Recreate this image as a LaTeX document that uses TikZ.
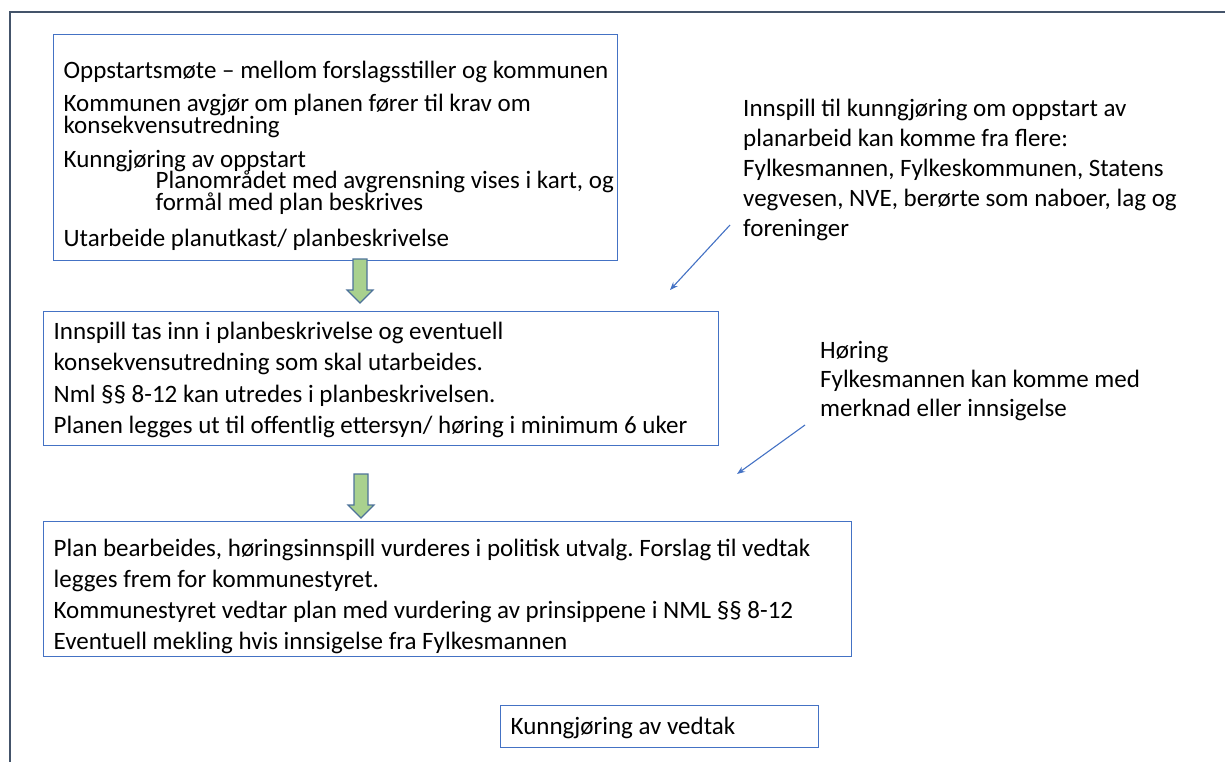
\documentclass[tikz,border=0pt]{standalone}
\usepackage{fontspec}
\setmainfont{Carlito}
\usetikzlibrary{positioning,arrows.meta}
\definecolor{framegrey}{HTML}{44546A}
\definecolor{boxblue}{HTML}{4472C4}
\definecolor{arrowgreen}{HTML}{A9D18E}
\definecolor{arrowedge}{HTML}{4E7399}
\newcommand{\planrow}[3]{\makebox[#1][l]{\rule{0pt}{#2}#3}}
\newcommand{\planend}[2]{\rule[-#1]{0pt}{#1}#2}
\newcommand{\planfont}[1]{\fontsize{25}{#1}\selectfont\frenchspacing\lineskiplimit -20pt\relax}
\tikzset{
  planbox/.style={draw=boxblue, line width=1.3pt, anchor=north west, align=left,
    inner xsep=10pt, inner ysep=0pt, font=\planfont{31pt}},
  note/.style={anchor=north west, align=left, inner sep=0pt,
    font=\fontsize{25}{30}\selectfont\frenchspacing},
  greenarrow/.style={draw=arrowedge, fill=arrowgreen, line width=1.2pt, line join=miter},
  pil/.pic={\path[greenarrow] (-7,0) -- (7,0) -- (7,31) -- (13,31) -- (0,44)
    -- (-13,31) -- (-7,31) -- cycle;},
  hint/.style={draw=boxblue, line width=1.1pt, -{Stealth[length=8pt,width=6pt]}}
}
\begin{document}
\begin{tikzpicture}[x=1pt,y=-1pt]
  \useasboundingbox (0,0) rectangle (1225,762);
  \draw[framegrey, line width=2.5pt] (1225,12) -- (10,12) -- (10,762);

  \node[planbox, font=\planfont{21.5pt}] (oppstart) at (53,34)
    {\planrow{544pt}{44pt}{Oppstartsmøte – mellom forslagsstiller og kommunen}\\[11.5pt]
     Kommunen avgjør om planen fører til krav om\\
     konsekvensutredning\\[12.5pt]
     Kunngjøring av oppstart\\
     \planrow{544pt}{0pt}{\hspace*{92pt}Planområdet med avgrensning vises i kart, og}\\
     \hspace*{92pt}formål med plan beskrives\\[14.5pt]
     \planend{14.5pt}{Utarbeide planutkast/ planbeskrivelse}};

  \node[planbox, font=\planfont{31.3pt}] (ettersyn) at (43,311)
    {\planrow{655pt}{28pt}{Innspill tas inn i planbeskrivelse og eventuell}\\
     konsekvensutredning som skal utarbeides.\\
     Nml §§ 8-12 kan utredes i planbeskrivelsen.\\
     \planend{12pt}{Planen legges ut til offentlig ettersyn/ høring i minimum 6 uker}};

  \node[planbox] (vedtak) at (43,521)
    {\planrow{788pt}{35pt}{Plan bearbeides, høringsinnspill vurderes i politisk utvalg. Forslag til vedtak}\\
     legges frem for kommunestyret.\\
     Kommunestyret vedtar plan med vurdering av prinsippene i NML §§ 8-12\\
     \planend{7pt}{Eventuell mekling hvis innsigelse fra Fylkesmannen}};

  \node[planbox] (kunngjoring) at (500,705)
    {\planrow{298pt}{29pt}{\planend{13pt}{Kunngjøring av vedtak}}};

  \pic (pil1) at (360,259) {pil};
  \pic (pil2) at (361,474) {pil};

  \node[note] (innspill) at (743,99)
    {Innspill til kunngjøring om oppstart av\\
     planarbeid kan komme fra flere:\\
     Fylkesmannen, Fylkeskommunen, Statens\\
     vegvesen, NVE, berørte som naboer, lag og\\
     foreninger};
  \node[note, font=\fontsize{25}{29}\selectfont] (horing) at (820,341)
    {Høring\\
     Fylkesmannen kan komme med\\
     merknad eller innsigelse};

  \coordinate (innspill-fra) at (730,225);
  \coordinate (innspill-til) at (670,290);
  \coordinate (horing-fra) at (805,425);
  \coordinate (horing-til) at (737,474);
  \begin{scope}[hint]
    \draw (innspill-fra) -- (innspill-til);
    \draw (horing-fra) -- (horing-til);
  \end{scope}
\end{tikzpicture}
\end{document}
